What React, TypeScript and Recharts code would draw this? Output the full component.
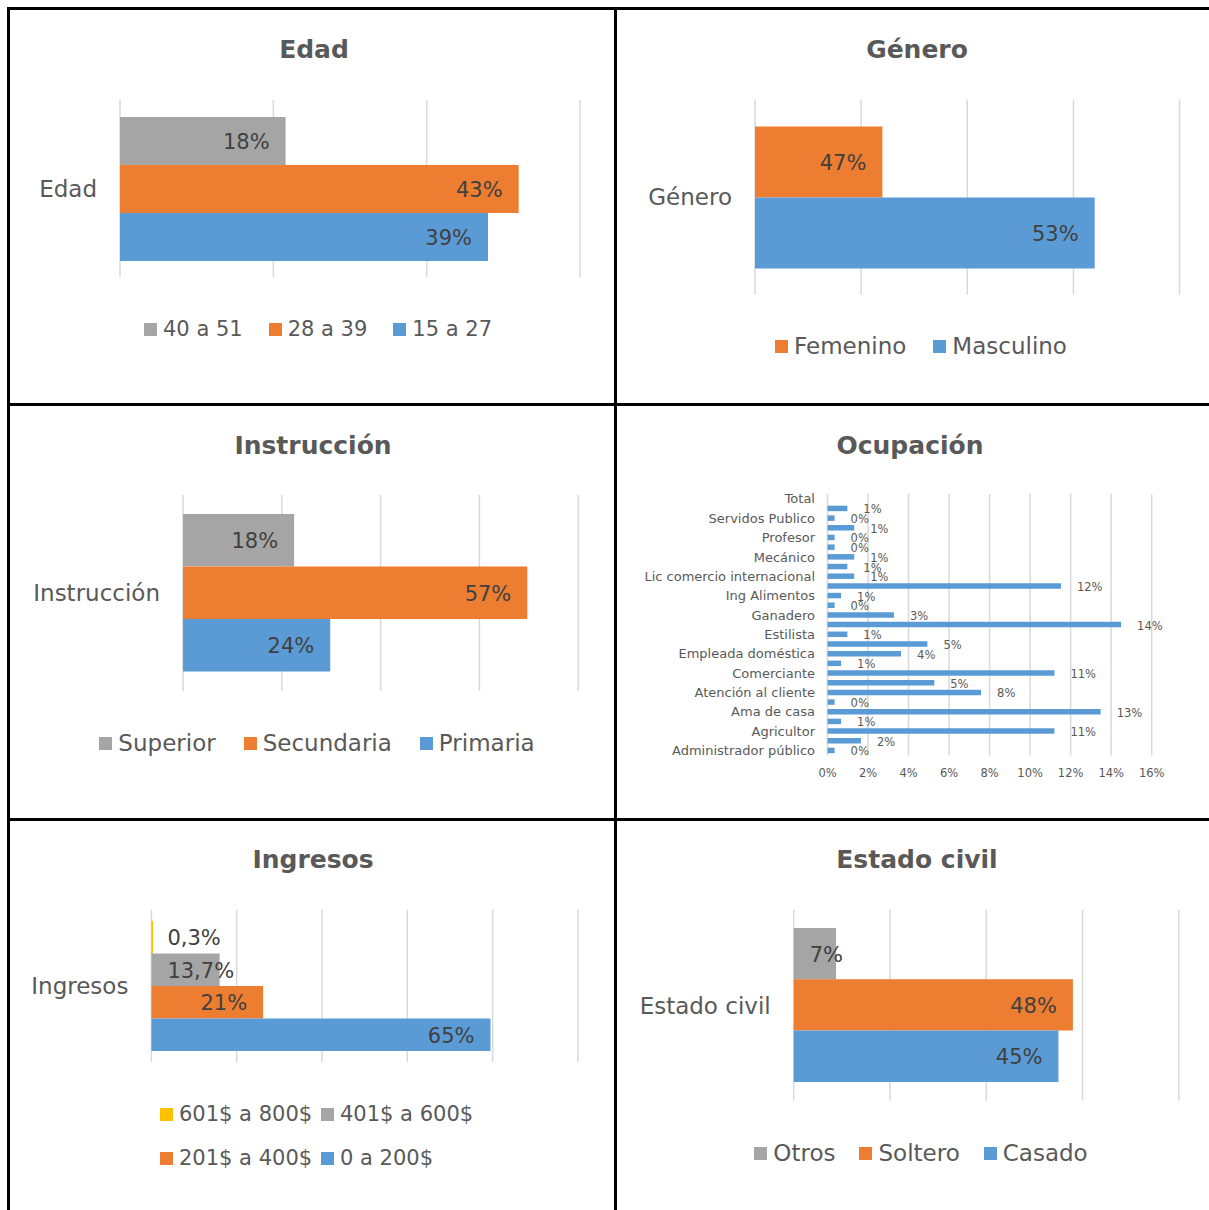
import React from "react"
import {
  BarChart,
  Bar,
  XAxis,
  YAxis,
  CartesianGrid,
  LabelList,
  Legend,
} from "recharts"

// palette (office defaults)
const GRAY = "#A5A5A5"
const ORANGE = "#ED7D31"
const BLUE = "#5B9BD5"
const YELLOW = "#FFC000"
const TEXT = "#595959"
const LABEL = "#404040"
const GRID = "#D9D9D9"

// Edad
const edadSeries = ["40 a 51", "28 a 39", "15 a 27"]
const edadValues = [21.6, 52, 48]
const edadLabels = ["18%", "43%", "39%"]
const edadTicks = [0, 20, 40, 60]

// Género
const generoSeries = ["Femenino", "Masculino"]
const generoValues = [12, 32]
const generoLabels = ["47%", "53%"]
const generoTicks = [0, 10, 20, 30, 40]

// Instrucción
const instSeries = ["Superior", "Secundaria", "Primaria"]
const instValues = [22.5, 69.7, 29.8]
const instLabels = ["18%", "57%", "24%"]
const instTicks = [0, 20, 40, 60, 80]

// Ingresos
const ingSeries = ["601$ a 800$", "401$ a 600$", "201$ a 400$", "0 a 200$"]
const ingValues = [0.38, 16, 26.2, 79.5]
const ingLabels = ["0,3%", "13,7%", "21%", "65%"]
const ingTicks = [0, 20, 40, 60, 80, 100]

// Estado civil
const civilSeries = ["Otros", "Soltero", "Casado"]
const civilValues = [8.8, 58, 55]
const civilLabels = ["7%", "48%", "45%"]
const civilTicks = [0, 20, 40, 60, 80]

// Ocupación (top to bottom; only every other category label is shown in the original)
const occNames = [
  "Total", "", "Servidos Publico", "", "Profesor", "", "Mecánico", "",
  "Lic comercio internacional", "", "Ing Alimentos", "", "Ganadero", "",
  "Estilista", "", "Empleada doméstica", "", "Comerciante", "",
  "Atención al cliente", "", "Ama de casa", "", "Agricultor", "",
  "Administrador público",
]
const occValues: (number | null)[] = [
  null, 0.98, 0.35, 1.32, 0.35, 0.35, 1.32, 0.98, 1.32, 11.52, 0.67, 0.35,
  3.28, 14.49, 0.98, 4.93, 3.63, 0.67, 11.2, 5.27, 7.58, 0.35, 13.48, 0.67,
  11.2, 1.65, 0.35,
]
const occTicks = [0, 2, 4, 6, 8, 10, 12, 14, 16]

const occData = occNames.map((n, i) => ({ id: i, value: occValues[i] }))

// labels inside the bar end; short bars get the label from the base
const insideEnd = (size: number) => (p: any) => {
  const vb = p.viewBox ?? p
  const x = Number(vb.x)
  const y = Number(vb.y)
  const w = Number(vb.width)
  const h = Number(vb.height)
  const text = String(p.value ?? "")
  const tw = text.length * size * 0.7
  const fits = w - 32 >= tw
  return (
    <text
      x={fits ? x + w - 16 : x + 16}
      y={y + h / 2 + 1}
      textAnchor={fits ? "end" : "start"}
      dominantBaseline="central"
      fontSize={size}
      fill={LABEL}
    >
      {text}
    </text>
  )
}

const outsideEnd = (p: any) => {
  if (p.value == null) return null
  const vb = p.viewBox ?? p
  const x = Number(vb.x)
  const y = Number(vb.y)
  const w = Number(vb.width)
  const h = Number(vb.height)
  return (
    <text
      x={x + w + 16}
      y={y + h / 2 + 1}
      dominantBaseline="central"
      fontSize={11.5}
      fill={TEXT}
    >
      {Math.round(p.value)}%
    </text>
  )
}

type LegendCfg = {
  cx?: number
  cy: number
  left?: number
  fontSize: number
  gap?: number
  cols?: number
  colWidth?: number
  rowHeight?: number
}

const LegendBlock: React.FC<{ names: string[]; colors: string[]; cfg: LegendCfg }> = ({
  names,
  colors,
  cfg,
}) => {
  const item = (n: string, i: number) => (
    <div key={n} style={{ display: "flex", alignItems: "center", whiteSpace: "nowrap" }}>
      <span
        style={{
          display: "inline-block",
          width: 13,
          height: 13,
          background: colors[i],
          marginRight: 6,
        }}
      />
      <span>{n}</span>
    </div>
  )
  if (cfg.cols) {
    return (
      <div
        style={{
          display: "grid",
          gridTemplateColumns: `repeat(${cfg.cols}, ${cfg.colWidth}px)`,
          gridAutoRows: `${cfg.rowHeight}px`,
          alignItems: "center",
          fontSize: cfg.fontSize,
          color: TEXT,
        }}
      >
        {names.map(item)}
      </div>
    )
  }
  return (
    <div
      style={{
        display: "flex",
        justifyContent: "center",
        alignItems: "center",
        gap: cfg.gap,
        height: 30,
        fontSize: cfg.fontSize,
        color: TEXT,
      }}
    >
      {names.map(item)}
    </div>
  )
}

type PanelProps = {
  box: { left: number; top: number; width: number; height: number }
  title: string
  titleX: number
  titleY: number
  category: string
  series: string[]
  values: number[]
  labels: string[]
  colors: string[]
  ticks: number[]
  margin: { top: number; right: number; bottom: number; left: number }
  axisWidth: number
  barSize: number
  legend: LegendCfg
}

const Title: React.FC<{ x: number; y: number; text: string }> = ({ x, y, text }) => (
  <div
    style={{
      position: "absolute",
      left: x - 200,
      top: y - 16,
      width: 400,
      height: 32,
      lineHeight: "32px",
      textAlign: "center",
      fontSize: 25,
      fontWeight: "bold",
      color: TEXT,
      zIndex: 2,
    }}
  >
    {text}
  </div>
)

const HBarPanel: React.FC<PanelProps> = (p) => {
  const row: Record<string, any> = { name: p.category }
  p.series.forEach((_, i) => {
    row[`v${i}`] = p.values[i]
    row[`l${i}`] = p.labels[i]
  })
  const lg = p.legend
  const wrapper: React.CSSProperties = lg.cols
    ? { left: lg.left, top: lg.cy - (lg.rowHeight ?? 44) / 2, width: 400 }
    : { left: (lg.cx ?? 0) - 300, top: lg.cy - 15, width: 600, height: 30 }
  return (
    <div style={{ position: "absolute", ...p.box }}>
      <Title x={p.titleX} y={p.titleY} text={p.title} />
      <BarChart
        width={p.box.width}
        height={p.box.height}
        data={[row]}
        layout="vertical"
        margin={p.margin}
        barGap={0}
      >
        <CartesianGrid horizontal={false} stroke={GRID} strokeWidth={1.5} />
        <XAxis
          type="number"
          domain={[p.ticks[0], p.ticks[p.ticks.length - 1]]}
          ticks={p.ticks}
          hide
        />
        <YAxis
          type="category"
          dataKey="name"
          width={p.axisWidth}
          axisLine={false}
          tickLine={false}
          tickSize={0}
          tickMargin={23}
          tick={{ fontSize: 23, fill: TEXT }}
        />
        {p.series.map((s, i) => (
          <Bar
            key={s}
            dataKey={`v${i}`}
            name={s}
            fill={p.colors[i]}
            barSize={p.barSize}
            isAnimationActive={false}
          >
            <LabelList dataKey={`l${i}`} content={insideEnd(21)} />
          </Bar>
        ))}
        <Legend
          layout="horizontal"
          verticalAlign="middle"
          align="center"
          wrapperStyle={wrapper}
          content={() => <LegendBlock names={p.series} colors={p.colors} cfg={lg} />}
        />
      </BarChart>
    </div>
  )
}

const line = (left: number, top: number, width: number, height: number) => (
  <div
    style={{ position: "absolute", left, top, width, height, background: "#000", zIndex: 3 }}
  />
)

export default function App() {
  return (
    <div
      style={{
        position: "absolute",
        left: 0,
        top: 0,
        width: 1209,
        height: 1210,
        background: "#fff",
        overflow: "hidden",
        fontFamily: '"DejaVu Sans", sans-serif',
      }}
    >
      <HBarPanel
        box={{ left: 10, top: 10, width: 604, height: 393 }}
        title="Edad"
        titleX={304}
        titleY={40}
        category="Edad"
        series={edadSeries}
        values={edadValues}
        labels={edadLabels}
        colors={[GRAY, ORANGE, BLUE]}
        ticks={edadTicks}
        margin={{ top: 90, right: 34, bottom: 126, left: 10 }}
        axisWidth={100}
        barSize={48}
        legend={{ cx: 308, cy: 319, fontSize: 21, gap: 26 }}
      />
      <HBarPanel
        box={{ left: 617, top: 10, width: 592, height: 393 }}
        title="Género"
        titleX={300}
        titleY={40}
        category="Género"
        series={generoSeries}
        values={generoValues}
        labels={generoLabels}
        colors={[ORANGE, BLUE]}
        ticks={generoTicks}
        margin={{ top: 89.5, right: 29.4, bottom: 108.5, left: 13 }}
        axisWidth={125}
        barSize={71}
        legend={{ cx: 304, cy: 336, fontSize: 23, gap: 27 }}
      />
      <HBarPanel
        box={{ left: 10, top: 406, width: 604, height: 412 }}
        title="Instrucción"
        titleX={303}
        titleY={40}
        category="Instrucción"
        series={instSeries}
        values={instValues}
        labels={instLabels}
        colors={[GRAY, ORANGE, BLUE]}
        ticks={instTicks}
        margin={{ top: 89, right: 35.8, bottom: 127, left: 13 }}
        axisWidth={160}
        barSize={52.5}
        legend={{ cx: 307, cy: 337, fontSize: 23, gap: 28 }}
      />

      {/* Ocupación */}
      <div style={{ position: "absolute", left: 617, top: 406, width: 592, height: 412 }}>
        <Title x={293} y={40} text="Ocupación" />
        <BarChart
          width={592}
          height={412}
          data={occData}
          layout="vertical"
          margin={{ top: 88, right: 57.3, bottom: 32.6, left: 10.5 }}
          barGap={0}
        >
          <CartesianGrid horizontal={false} stroke={GRID} strokeWidth={1.5} />
          <XAxis
            type="number"
            domain={[0, 16]}
            ticks={occTicks}
            interval={0}
            tickFormatter={(v: number) => `${v}%`}
            axisLine={false}
            tickLine={false}
            tickSize={0}
            tickMargin={13}
            height={30}
            tick={{ fontSize: 11.5, fill: TEXT }}
          />
          <YAxis
            type="category"
            dataKey="id"
            width={200}
            interval={0}
            tickFormatter={(i: number) => occNames[i]}
            axisLine={false}
            tickLine={false}
            tickSize={0}
            tickMargin={12.5}
            tick={{ fontSize: 13, fill: TEXT }}
          />
          <Bar dataKey="value" fill={BLUE} barSize={5.5} isAnimationActive={false}>
            <LabelList dataKey="value" content={outsideEnd} />
          </Bar>
        </BarChart>
      </div>

      <HBarPanel
        box={{ left: 10, top: 821, width: 604, height: 389 }}
        title="Ingresos"
        titleX={303}
        titleY={39}
        category="Ingresos"
        series={ingSeries}
        values={ingValues}
        labels={ingLabels}
        colors={[YELLOW, GRAY, ORANGE, BLUE]}
        ticks={ingTicks}
        margin={{ top: 89, right: 36.1, bottom: 147.7, left: 11.4 }}
        axisWidth={130}
        barSize={32.5}
        legend={{ left: 150, cy: 293, fontSize: 21, cols: 2, colWidth: 161, rowHeight: 44 }}
      />
      <HBarPanel
        box={{ left: 617, top: 821, width: 592, height: 389 }}
        title="Estado civil"
        titleX={300}
        titleY={39}
        category="Estado civil"
        series={civilSeries}
        values={civilValues}
        labels={civilLabels}
        colors={[GRAY, ORANGE, BLUE]}
        ticks={civilTicks}
        margin={{ top: 89, right: 30.2, bottom: 109.3, left: 16.7 }}
        axisWidth={160}
        barSize={51.3}
        legend={{ cx: 304, cy: 332, fontSize: 23, gap: 24 }}
      />

      {/* panel borders */}
      {line(7, 7, 1202, 3)}
      {line(7, 7, 3, 1203)}
      {line(614, 7, 3, 1203)}
      {line(7, 403, 1202, 3)}
      {line(7, 818, 1202, 3)}
    </div>
  )
}
